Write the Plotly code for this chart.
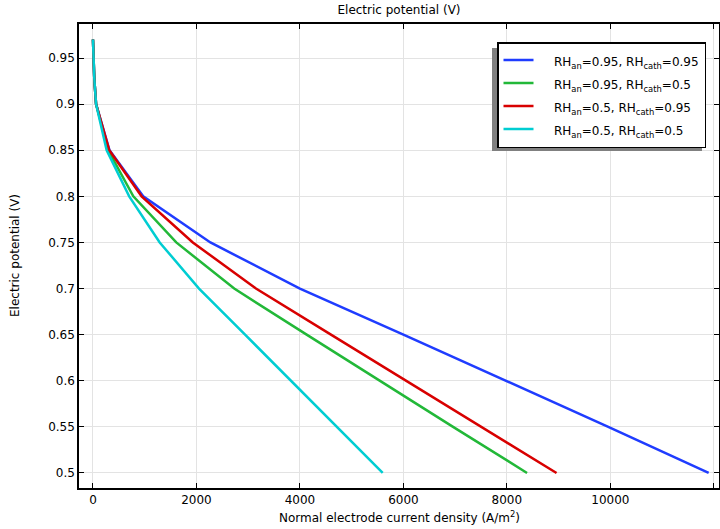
import plotly.graph_objects as go

voltage = [0.97, 0.96, 0.95, 0.94, 0.93, 0.92, 0.91, 0.9, 0.85, 0.8, 0.75, 0.7, 0.65, 0.6, 0.55, 0.5]
i_an95_cath95 = [0, 3, 8, 15, 24, 35, 47, 60, 320, 970, 2270, 4000, 6000, 7980, 9960, 11900]
i_an95_cath50 = [0, 3, 8, 15, 24, 35, 47, 60, 295, 780, 1610, 2730, 4130, 5540, 6960, 8390]
i_an50_cath95 = [0, 3, 8, 15, 24, 35, 47, 60, 315, 940, 1930, 3150, 4600, 6060, 7510, 8960]
i_an50_cath50 = [0, 3, 8, 15, 24, 35, 47, 60, 265, 700, 1290, 2050, 2940, 3830, 4710, 5600]

series_names = [
    "RH<sub>an</sub>=0.95, RH<sub>cath</sub>=0.95",
    "RH<sub>an</sub>=0.95, RH<sub>cath</sub>=0.5",
    "RH<sub>an</sub>=0.5, RH<sub>cath</sub>=0.95",
    "RH<sub>an</sub>=0.5, RH<sub>cath</sub>=0.5",
]
series_colors = ["#1f3cff", "#22b838", "#d80000", "#00cdd2"]

x_tickvals = [0, 2000, 4000, 6000, 8000, 10000, 12000]
x_ticktext = ["0", "2000", "4000", "6000", "8000", "10000", ""]
y_tickvals = [0.5, 0.55, 0.6, 0.65, 0.7, 0.75, 0.8, 0.85, 0.9, 0.95]
y_ticktext = ["0.5", "0.55", "0.6", "0.65", "0.7", "0.75", "0.8", "0.85", "0.9", "0.95"]

font = "DejaVu Sans"

fig = go.Figure()
for name, color, xs in zip(series_names, series_colors,
                           [i_an95_cath95, i_an95_cath50, i_an50_cath95, i_an50_cath50]):
    fig.add_trace(go.Scatter(x=xs, y=voltage, mode="lines",
                             name="\u2002\u2002<span style='font-size:12px'>" + name + "</span>",
                             line=dict(color=color, width=2.5)))

L, R, T, B = 79, 719, 24, 488
W, H = R - L, B - T
def px_x(p):
    return (p - L) / W
def px_y(p):
    return (B - p) / H

# legend shadow
fig.add_shape(type="rect", xref="paper", yref="paper",
              x0=px_x(492), x1=px_x(702), y0=px_y(151), y1=px_y(48),
              fillcolor="#808080", line=dict(width=0), layer="above")

fig.add_annotation(text="Normal electrode current density (A/m<sup>2</sup>)",
                   xref="paper", yref="paper", x=0.5, y=px_y(517),
                   xanchor="center", yanchor="middle", showarrow=False,
                   font=dict(size=12))
fig.add_annotation(text="Electric potential (V)", textangle=-90,
                   xref="paper", yref="paper", x=px_x(15), y=0.5,
                   xanchor="center", yanchor="middle", showarrow=False,
                   font=dict(size=12))

fig.update_layout(
    width=720, height=529,
    margin=dict(l=L, r=720 - R, t=T, b=529 - B, autoexpand=False),
    paper_bgcolor="white", plot_bgcolor="white",
    font=dict(family=font, size=12, color="black"),
    title=dict(text="Electric potential (V)", x=(L + R) / 2 / 720, xanchor="center",
               y=1 - 10 / 529, yanchor="middle", font=dict(size=12)),
    showlegend=True,
    legend=dict(x=px_x(497), y=px_y(42), xanchor="left", yanchor="top",
                bgcolor="white", bordercolor="black", borderwidth=1.5,
                font=dict(size=15.4), tracegroupgap=0),
    xaxis=dict(range=[-270, 12100], tickvals=x_tickvals, ticktext=x_ticktext,
               showgrid=True, gridcolor="#e3e3e3", gridwidth=1, automargin=False,
               zeroline=False, showline=True, linecolor="black", linewidth=1.5,
               mirror="allticks", ticks="inside", ticklen=5, tickcolor="black"),
    yaxis=dict(range=[0.4837, 0.9869], tickvals=y_tickvals, ticktext=y_ticktext,
               showgrid=True, gridcolor="#e3e3e3", gridwidth=1, automargin=False,
               zeroline=False, showline=True, linecolor="black", linewidth=1.5,
               mirror="allticks", ticks="inside", ticklen=5, tickcolor="black"),
)

fig.write_html("out.html", config={"displayModeBar": False},
               post_script="document.body.style.margin='0px';document.body.style.overflow='hidden';")
